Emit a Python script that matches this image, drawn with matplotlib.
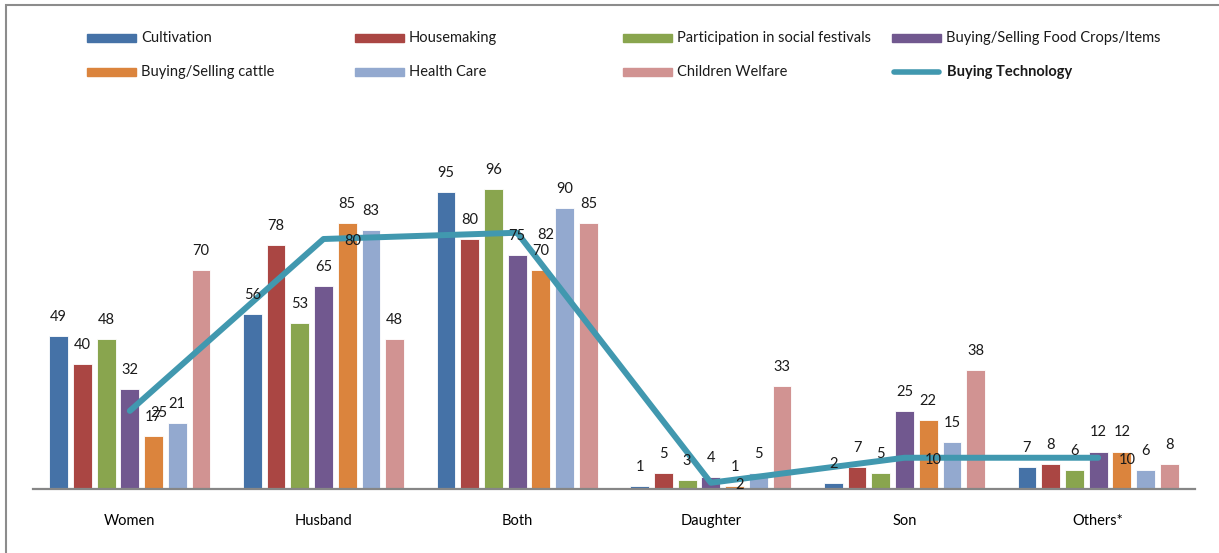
import matplotlib
matplotlib.use("Agg")
import matplotlib.pyplot as plt
import numpy as np
from matplotlib.patches import Rectangle
from matplotlib.lines import Line2D

plt.rcParams['font.family'] = ['Lato', 'DejaVu Sans']

categories = ["Women", "Husband", "Both", "Daughter", "Son", "Others*"]

series_names = [
    "Cultivation",
    "Housemaking",
    "Participation in social festivals",
    "Buying/Selling Food Crops/Items",
    "Buying/Selling cattle",
    "Health Care",
    "Children Welfare",
]
cultivation = [49, 56, 95, 1, 2, 7]
housemaking = [40, 78, 80, 5, 7, 8]
festivals = [48, 53, 96, 3, 5, 6]
food_crops = [32, 65, 75, 4, 25, 12]
cattle = [17, 85, 70, 1, 22, 12]
health_care = [21, 83, 90, 5, 15, 6]
children_welfare = [70, 48, 85, 33, 38, 8]
technology_name = "Buying Technology"
buying_technology = [25, 80, 82, 2, 10, 10]

bar_series = [cultivation, housemaking, festivals, food_crops, cattle,
              health_care, children_welfare]
colors = ["#4572A7", "#AA4643", "#89A54E", "#71588F", "#DB843D",
          "#93A9CF", "#D19392"]
line_color = "#4198AF"
FS = 10.5

W, H = 1219, 553
fig = plt.figure(figsize=(W / 100, H / 100), dpi=100)
ax = fig.add_axes([33 / W, 1 - 489 / H, (1195 - 33) / W, (489 - 114) / H])

x = np.arange(len(categories))
slot = 0.1225
bar_w = 0.097
for i, (vals, c) in enumerate(zip(bar_series, colors)):
    pos = x + (i - 3) * slot
    bars = ax.bar(pos, vals, width=bar_w, color=c, edgecolor="#ffffff",
                  linewidth=0.6, zorder=2)
    for b, v in zip(bars, vals):
        ax.annotate(str(v), (b.get_x() + b.get_width() / 2, v),
                    xytext=(0, 12), textcoords="offset pixels",
                    ha="center", va="bottom", fontsize=FS, color="#1a1a1a",
                    zorder=5)

ax.plot(x, buying_technology, color=line_color, lw=4.3,
        solid_capstyle="round", solid_joinstyle="round", zorder=4)
for xi, v in zip(x, buying_technology):
    ax.annotate(str(v), (xi, v), xytext=(29, -2), textcoords="offset pixels",
                ha="center", va="center", fontsize=FS, color="#1a1a1a",
                zorder=5)

ax.set_xlim(-0.5, 5.5)
ax.set_ylim(0, 120)
ax.set_xticks(x)
ax.set_xticklabels(categories, fontsize=FS)
ax.tick_params(axis="x", length=0, pad=18)
ax.set_yticks([])
for s in ["top", "right", "left"]:
    ax.spines[s].set_visible(False)
ax.spines["bottom"].set_color("#868686")
ax.spines["bottom"].set_linewidth(1.6)

# outer chart border
fig.add_artist(Rectangle((6 / W, -0.1), 1.2, 1.1 - 5 / H,
                         transform=fig.transFigure, fill=False,
                         edgecolor="#8c8c8c", linewidth=1.5))

# legend, laid out in two rows of four entries
col_x = [87, 355, 623, 892]
row_y = [38, 72]
entries = [
    (0, 0, series_names[0], colors[0]),
    (1, 0, series_names[1], colors[1]),
    (2, 0, series_names[2], colors[2]),
    (3, 0, series_names[3], colors[3]),
    (0, 1, series_names[4], colors[4]),
    (1, 1, series_names[5], colors[5]),
    (2, 1, series_names[6], colors[6]),
]
patch_w, patch_h = 49, 8
for ci, ri, name, c in entries:
    px, py = col_x[ci], row_y[ri]
    fig.add_artist(Rectangle((px / W, 1 - (py + patch_h / 2) / H),
                             patch_w / W, patch_h / H,
                             transform=fig.transFigure, color=c))
    fig.text((px + patch_w + 5) / W, 1 - py / H, name, fontsize=FS,
             va="center", ha="left", color="#1a1a1a")

px, py = col_x[3], row_y[1]
fig.add_artist(Line2D([(px + 2) / W, (px + patch_w - 2) / W],
                      [1 - py / H, 1 - py / H], transform=fig.transFigure,
                      color=line_color, lw=4, solid_capstyle="round"))
fig.text((px + patch_w + 6) / W, 1 - py / H, technology_name, fontsize=FS,
         fontweight="bold", va="center", ha="left", color="#1a1a1a")

fig.savefig("out.png", dpi=100, facecolor="white")
